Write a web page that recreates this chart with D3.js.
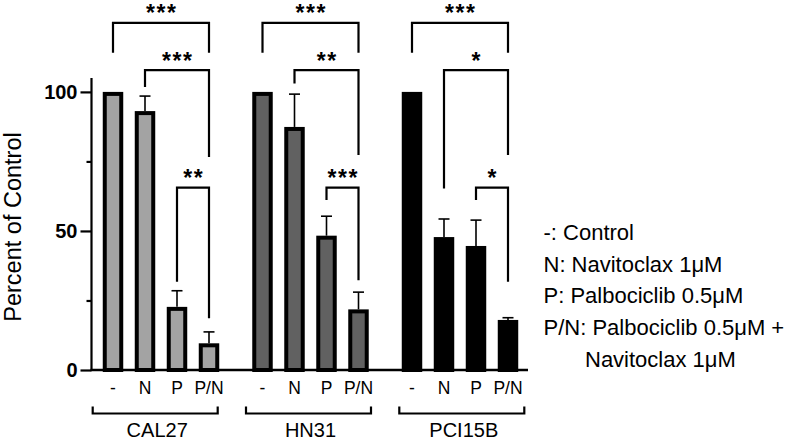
<!DOCTYPE html>
<html>
<head>
<meta charset="utf-8">
<script src="https://cdn.jsdelivr.net/npm/d3@7"></script>
<style>
  html, body { margin: 0; padding: 0; background: #fff; }
  svg { display: block; font-family: "Liberation Sans", Arial, Helvetica, sans-serif; }
</style>
</head>
<body>
<svg id="chart" width="800" height="442"></svg>
<script>
// ---------------- data ----------------
const groups = ["CAL27", "HN31", "PCI15B"];
const conditions = ["-", "N", "P", "P/N"];
const cal27Values = [100, 93.1, 22.7, 9.6];
const cal27Errors = [0, 5.4, 5.8, 4.1];
const hn31Values = [100, 87.4, 48.3, 21.8];
const hn31Errors = [0, 11.8, 7.0, 6.2];
const pci15bValues = [100, 47.8, 44.6, 18.0];
const pci15bErrors = [0, 6.5, 9.3, 0.8];
const groupColors = ["#a3a3a3", "#616161", "#000000"];
const yTicks = [0, 50, 100];
const yMinorTicks = [25, 75];
const yLabel = "Percent of Control";
// significance brackets (in data units)
const brackets = [
  { group: "CAL27", from: "-", to: "P/N", level: 124.8, leftEnd: 114.1, rightEnd: 114.1, label: "***" },
  { group: "CAL27", from: "N", to: "P/N", level: 107.8, leftEnd: 101.8, rightEnd: 76.6, label: "***" },
  { group: "CAL27", from: "P", to: "P/N", level: 65.6, leftEnd: 31.7, rightEnd: 18.6, label: "**" },
  { group: "HN31", from: "-", to: "P/N", level: 124.8, leftEnd: 114.1, rightEnd: 114.1, label: "***" },
  { group: "HN31", from: "N", to: "P/N", level: 107.8, leftEnd: 103.0, rightEnd: 77.3, label: "**" },
  { group: "HN31", from: "P", to: "P/N", level: 65.6, leftEnd: 61.1, rightEnd: 32.3, label: "***" },
  { group: "PCI15B", from: "-", to: "P/N", level: 124.8, leftEnd: 114.1, rightEnd: 114.1, label: "***" },
  { group: "PCI15B", from: "N", to: "P/N", level: 107.8, leftEnd: 65.3, rightEnd: 77.3, label: "*" },
  { group: "PCI15B", from: "P", to: "P/N", level: 65.6, leftEnd: 61.1, rightEnd: 31.7, label: "*" }
];
const legendLines = [
  "-: Control",
  "N: Navitoclax 1\u03bcM",
  "P: Palbociclib 0.5\u03bcM",
  "P/N: Palbociclib 0.5\u03bcM +",
  "Navitoclax 1\u03bcM"
];

const valuesByGroup = [cal27Values, hn31Values, pci15bValues];
const errorsByGroup = [cal27Errors, hn31Errors, pci15bErrors];
const bars = [];
groups.forEach((g, gi) => conditions.forEach((c, ci) => {
  bars.push({ group: g, cond: c, value: valuesByGroup[gi][ci], err: errorsByGroup[gi][ci], color: groupColors[gi] });
}));

// ---------------- layout ----------------
const svg = d3.select("#chart");
const axisX = 91.5, baseY = 370;
const y = d3.scaleLinear().domain([0, 105]).range([baseY, 78]);
const xGroup = d3.scaleBand().domain(groups).range([97, 524]).paddingInner(0.1438).paddingOuter(0);
const xCond = d3.scaleBand().domain(conditions).range([0, xGroup.bandwidth()]).paddingInner(0.36).paddingOuter(0.18);
const xGroupBracket = d3.scaleBand().domain(groups).range([92.7, 524.3]).paddingInner(0.1846).paddingOuter(0);
const cx = (g, c) => xGroup(g) + xCond(c) + xCond.bandwidth() / 2;

// bars (border drawn inside the bar extent)
const sw = 4;
svg.append("g").selectAll("rect").data(bars).join("rect")
  .attr("x", d => xGroup(d.group) + xCond(d.cond) + sw / 2)
  .attr("y", d => y(d.value) + sw / 2)
  .attr("width", xCond.bandwidth() - sw)
  .attr("height", d => baseY - y(d.value) - sw / 2)
  .attr("fill", d => d.color)
  .attr("stroke", "#000")
  .attr("stroke-width", sw);

// error bars (upper only)
const eb = svg.append("g").attr("stroke", "#000").attr("stroke-width", 1.6).attr("fill", "none");
bars.filter(d => d.err > 0).forEach(d => {
  const x0 = cx(d.group, d.cond);
  eb.append("line").attr("x1", x0).attr("x2", x0).attr("y1", y(d.value)).attr("y2", y(d.value + d.err));
  eb.append("line").attr("x1", x0 - 5.5).attr("x2", x0 + 5.5).attr("y1", y(d.value + d.err)).attr("y2", y(d.value + d.err));
});

// y axis
const yAxis = d3.axisLeft(y).tickValues(yTicks).tickSize(11).tickPadding(3).tickFormat(d3.format("d"));
const gy = svg.append("g").attr("transform", `translate(${axisX},0)`).call(yAxis);
gy.select(".domain").attr("stroke-width", 2.2).attr("d", `M0,${y(105)}V${baseY}`);
gy.selectAll(".tick line").attr("stroke-width", 2.2);
gy.selectAll(".tick text").attr("font-size", 20).attr("font-weight", "bold")
  .attr("font-family", "Liberation Sans, Arial, sans-serif").attr("fill", "#000");
const gyMinor = d3.axisLeft(y).tickValues(yMinorTicks).tickSize(5).tickFormat("");
const gm = svg.append("g").attr("transform", `translate(${axisX},0)`).call(gyMinor);
gm.select(".domain").remove();
gm.selectAll(".tick line").attr("stroke-width", 2.2);

// x axis baseline
svg.append("line").attr("x1", axisX - 1).attr("x2", 528).attr("y1", baseY).attr("y2", baseY)
  .attr("stroke", "#000").attr("stroke-width", 2.6);

// y label
svg.append("text").attr("transform", `translate(21,227) rotate(-90)`)
  .attr("text-anchor", "middle").attr("font-size", 23.5).attr("fill", "#000").text(yLabel);

// x condition labels
const xl = svg.append("g").attr("font-size", 17.5).attr("text-anchor", "middle").attr("fill", "#000");
bars.forEach(d => {
  xl.append("text").attr("x", cx(d.group, d.cond)).attr("y", 393.5).text(d.cond);
});

// group brackets and labels
const gb = svg.append("g");
groups.forEach(g => {
  const x0 = xGroupBracket(g), x1 = x0 + xGroupBracket.bandwidth();
  gb.append("path").attr("d", `M${x0},406.5V413.5H${x1}V406.5`)
    .attr("fill", "none").attr("stroke", "#000").attr("stroke-width", 2.2);
  gb.append("text").attr("x", (x0 + x1) / 2 + 2).attr("y", 437).attr("text-anchor", "middle")
    .attr("font-size", 20).attr("fill", "#000").text(g);
});

// significance brackets
const sb = svg.append("g");
brackets.forEach(b => {
  const xa = cx(b.group, b.from), xb = cx(b.group, b.to);
  sb.append("path")
    .attr("d", `M${xa},${y(b.leftEnd)}V${y(b.level)}H${xb}V${y(b.rightEnd)}`)
    .attr("fill", "none").attr("stroke", "#000").attr("stroke-width", 2.2);
  sb.append("text").attr("x", (xa + xb) / 2 + 0.75).attr("y", y(b.level) - 1.5)
    .attr("text-anchor", "middle").attr("font-size", 23).attr("font-weight", "bold")
    .attr("letter-spacing", 1.5).attr("fill", "#000").text(b.label);
});

// legend
const lg = svg.append("g").attr("font-size", 22).attr("fill", "#000");
legendLines.forEach((t, i) => {
  lg.append("text").attr("x", i === legendLines.length - 1 ? 585 : 543.5)
    .attr("y", 240 + i * 31.7).text(t);
});
</script>
</body>
</html>
